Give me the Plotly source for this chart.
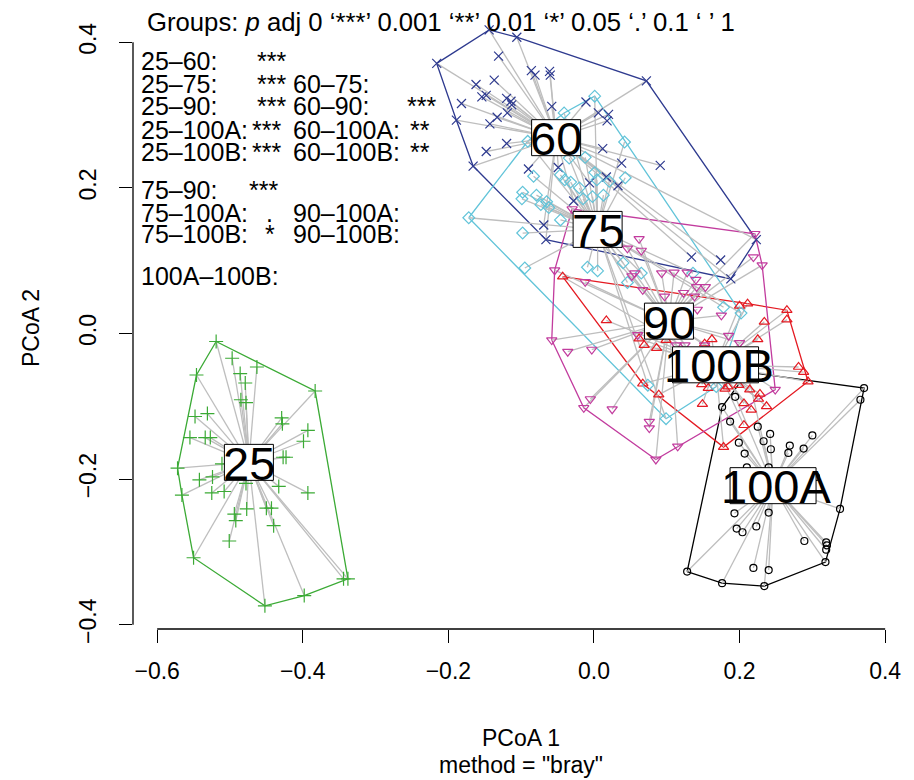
import plotly.graph_objects as go

# ---------------- data (PCoA scores) ----------------
groups = ["100A", "100B", "25", "60", "75", "90"]

x_100A = [0.211, 0.194, 0.176, 0.371, 0.366, 0.187, 0.225, 0.242, 0.300, 0.199, 0.233, 0.269, 0.267, 0.288,
          0.243, 0.207, 0.210, 0.240, 0.305, 0.338, 0.193, 0.240, 0.196, 0.204, 0.223, 0.289, 0.319, 0.320,
          0.319, 0.318, 0.219, 0.240, 0.128, 0.176, 0.234]
y_100A = [-0.053, -0.087, -0.101, -0.075, -0.091, -0.121, -0.128, -0.138, -0.140, -0.150, -0.148, -0.154,
          -0.164, -0.158, -0.159, -0.165, -0.184, -0.184, -0.197, -0.241, -0.247, -0.246, -0.268, -0.273,
          -0.265, -0.285, -0.287, -0.291, -0.297, -0.314, -0.322, -0.325, -0.327, -0.343, -0.347]

x_100B = [-0.043, 0.200, 0.211, 0.234, 0.017, 0.162, 0.225, 0.265, 0.265, 0.062, 0.069, 0.086, 0.152, 0.281,
          0.288, 0.294, 0.067, 0.089, 0.148, 0.157, 0.180, 0.184, 0.199, 0.214, 0.228, 0.226, 0.237, 0.149,
          0.206, 0.216, 0.206, 0.178, 0.099]
y_100B = [0.078, 0.038, 0.041, 0.016, 0.018, -0.008, -0.008, 0.032, 0.019, -0.007, -0.016, -0.020, -0.014,
          -0.046, -0.053, -0.066, -0.069, -0.084, -0.070, -0.075, -0.076, -0.073, -0.071, -0.077, -0.083,
          -0.090, -0.100, -0.097, -0.096, -0.105, -0.126, -0.156, -0.009]

x_25 = [-0.519, -0.497, -0.463, -0.486, -0.479, -0.546, -0.383, -0.485, -0.478, -0.548, -0.531, -0.429,
        -0.428, -0.393, -0.399, -0.555, -0.534, -0.527, -0.511, -0.572, -0.427, -0.423, -0.542, -0.524,
        -0.566, -0.525, -0.508, -0.433, -0.393, -0.494, -0.492, -0.477, -0.450, -0.443, -0.440, -0.501,
        -0.550, -0.452, -0.398, -0.344, -0.338, -0.478]
y_25 = [-0.011, -0.034, -0.046, -0.055, -0.068, -0.057, -0.079, -0.091, -0.095, -0.114, -0.110, -0.116,
        -0.124, -0.133, -0.148, -0.143, -0.143, -0.143, -0.179, -0.185, -0.170, -0.170, -0.201, -0.197,
        -0.222, -0.219, -0.217, -0.210, -0.219, -0.248, -0.257, -0.241, -0.240, -0.240, -0.264, -0.285,
        -0.308, -0.374, -0.360, -0.337, -0.337, -0.206]

x_60 = [-0.144, -0.106, -0.216, 0.072, -0.131, -0.086, -0.081, -0.061, -0.060, -0.162, -0.137, -0.182,
        -0.154, -0.148, -0.120, -0.114, -0.113, -0.058, -0.011, -0.189, -0.143, -0.133, -0.119, 0.006,
        0.020, 0.018, -0.120, -0.148, 0.012, -0.166, -0.090, -0.049, 0.038, 0.091, -0.006, 0.017, 0.033,
        -0.028, -0.069, -0.066, 0.134, 0.174, 0.188, 0.223]
y_60 = [0.417, 0.407, 0.371, 0.347, 0.381, 0.361, 0.355, 0.360, 0.355, 0.342, 0.348, 0.316, 0.325, 0.327,
        0.323, 0.319, 0.314, 0.312, 0.318, 0.293, 0.288, 0.297, 0.303, 0.303, 0.301, 0.292, 0.261, 0.250,
        0.254, 0.230, 0.226, 0.228, 0.234, 0.231, 0.207, 0.215, 0.203, 0.182, 0.149, 0.129, 0.105, 0.101,
        0.075, 0.129]

x_75 = [0.001, -0.041, 0.042, -0.091, -0.034, -0.012, -0.083, -0.046, -0.040, -0.032, 0.001, 0.004, 0.021,
        0.043, -0.020, -0.098, -0.099, -0.079, -0.065, -0.073, -0.062, -0.002, 0.013, -0.015, -0.172,
        -0.046, -0.098, -0.009, 0.005, 0.040, -0.095, 0.065, 0.046, 0.136, 0.178, 0.202, 0.168, 0.074, 0.099]
y_75 = [0.326, 0.303, 0.263, 0.264, 0.241, 0.242, 0.216, 0.218, 0.211, 0.208, 0.221, 0.211, 0.209, 0.214,
        0.200, 0.194, 0.185, 0.190, 0.181, 0.177, 0.173, 0.188, 0.190, 0.185, 0.159, 0.156, 0.138, 0.091,
        0.086, 0.097, 0.090, 0.083, 0.070, 0.083, 0.036, 0.028, -0.073, -0.071, -0.117]

x_90 = [-0.030, 0.221, 0.231, 0.219, 0.062, 0.046, 0.065, -0.054, -0.012, 0.052, 0.056, 0.067, 0.093, 0.110,
        0.128, 0.140, 0.153, 0.141, 0.097, 0.123, 0.138, 0.142, 0.175, -0.058, 0.185, -0.036, -0.003, 0.060,
        0.113, 0.125, 0.152, 0.200, 0.249, -0.005, -0.014, 0.025, 0.076, 0.076, 0.115, 0.085]
y_90 = [0.171, 0.137, 0.094, 0.105, 0.130, 0.117, 0.114, 0.087, 0.071, 0.079, 0.083, 0.060, 0.083, 0.084,
        0.084, 0.074, 0.064, 0.064, 0.051, 0.056, 0.051, 0.033, 0.025, -0.009, -0.003, -0.025, -0.022,
        -0.002, -0.016, -0.016, -0.016, -0.013, -0.077, -0.090, -0.102, -0.104, -0.121, -0.130, -0.155,
        -0.173]

# group centroids (spider centres / label positions), order = groups
centroid_x = [0.246, 0.167, -0.474, -0.052, 0.005, 0.103]
centroid_y = [-0.209, -0.043, -0.177, 0.269, 0.143, 0.017]

# pairwise comparison text
pair_labels = ["25–60:", "25–75:", "25–90:", "25–100A:", "25–100B:",
               "60–75:", "60–90:", "60–100A:", "60–100B:",
               "75–90:", "75–100A:", "75–100B:",
               "90–100A:", "90–100B:", "100A–100B:"]
pair_signif = ["***", "***", "***", "***", "***",
               "", "***", "**", "**",
               "***", ".", "*",
               "", "", ""]

tick_vals_x = [-0.6, -0.4, -0.2, 0.0, 0.2, 0.4]
tick_text_x = ["−0.6", "−0.4", "−0.2", "0.0", "0.2", "0.4"]
tick_vals_y = [-0.4, -0.2, 0.0, 0.2, 0.4]
tick_text_y = ["−0.4", "−0.2", "0.0", "0.2", "0.4"]

# ---------------- styles ----------------
group_x = {"100A": x_100A, "100B": x_100B, "25": x_25, "60": x_60, "75": x_75, "90": x_90}
group_y = {"100A": y_100A, "100B": y_100B, "25": y_25, "60": y_60, "75": y_75, "90": y_90}
colors = {"100A": "#000000", "100B": "#E41A22", "25": "#3BAA35", "60": "#2E3A8F",
          "75": "#62C4D9", "90": "#C23C9E"}
symbols = {"100A": "circle-open", "100B": "triangle-up-open", "25": "cross-thin-open",
           "60": "x-thin-open", "75": "diamond-open", "90": "triangle-down-open"}
msize = {"100A": 7, "100B": 9, "25": 10, "60": 9, "75": 9, "90": 9}

FONT = "Liberation Sans, Arial, Helvetica, sans-serif"
W, H = 914, 780
ML, MR, MT, MB = 133, 6, 7, 151
PW, PH = W - ML - MR, H - MT - MB
XR = [-0.6332, -0.6332 + PW / 728.0]
YR = [-0.4059, -0.4059 + PH / 728.0]


def px(xpix):
    return (xpix - ML) / PW


def py(ypix):
    return (H - MB - ypix) / PH


def convex_hull(xs, ys):
    pts = sorted(set(zip(xs, ys)))

    def cross(o, a, b):
        return (a[0] - o[0]) * (b[1] - o[1]) - (a[1] - o[1]) * (b[0] - o[0])

    lower, upper = [], []
    for p in pts:
        while len(lower) >= 2 and cross(lower[-2], lower[-1], p) <= 0:
            lower.pop()
        lower.append(p)
    for p in reversed(pts):
        while len(upper) >= 2 and cross(upper[-2], upper[-1], p) <= 0:
            upper.pop()
        upper.append(p)
    h = lower[:-1] + upper[:-1]
    h.append(h[0])
    return [p[0] for p in h], [p[1] for p in h]


fig = go.Figure()

# hulls
for g in groups:
    hx, hy = convex_hull(group_x[g], group_y[g])
    fig.add_trace(go.Scatter(x=hx, y=hy, mode="lines", line=dict(color=colors[g], width=1.3),
                             hoverinfo="skip", showlegend=False))

# spider segments
for i, g in enumerate(groups):
    sx, sy = [], []
    for xv, yv in zip(group_x[g], group_y[g]):
        sx += [centroid_x[i], xv, None]
        sy += [centroid_y[i], yv, None]
    fig.add_trace(go.Scatter(x=sx, y=sy, mode="lines", line=dict(color="#BEBEBE", width=1.3),
                             hoverinfo="skip", showlegend=False))

# points
for g in groups:
    fig.add_trace(go.Scatter(x=group_x[g], y=group_y[g], mode="markers", name=g,
                             marker=dict(symbol=symbols[g], size=msize[g], color=colors[g],
                                         line=dict(color=colors[g], width=1.2)),
                             showlegend=False))

shapes = []
annotations = []

# centroid labels with boxes
for i, g in enumerate(groups):
    bw = 49 if len(g) == 2 else 86
    shapes.append(dict(type="rect", xref="x", yref="y", xsizemode="pixel", ysizemode="pixel",
                       xanchor=centroid_x[i], yanchor=centroid_y[i],
                       x0=-bw / 2, x1=bw / 2, y0=-18, y1=18,
                       fillcolor="white", line=dict(color="black", width=1), layer="above"))
    annotations.append(dict(x=centroid_x[i], y=centroid_y[i], xref="x", yref="y", text=g,
                            showarrow=False, xanchor="center", yanchor="middle",
                            xshift=0 if len(g) == 2 else 3, yshift=-1,
                            font=dict(family=FONT, size=47, color="black")))

# axis lines (R style: from first to last tick)
shapes.append(dict(type="line", xref="paper", yref="y", x0=0, x1=0, y0=-0.4, y1=0.4,
                   line=dict(color="black", width=1.3)))
shapes.append(dict(type="line", xref="x", yref="paper", x0=-0.6, x1=0.4, y0=0, y1=0,
                   line=dict(color="black", width=1.3)))

# title line
annotations.append(dict(x=px(145), y=py(22), xref="paper", yref="paper", xanchor="left", yanchor="middle",
                        text="Groups: <i>p</i> adj 0 ‘***’ 0.001 ‘**’ 0.01 ‘*’ 0.05 ‘.’ 0.1 ‘ ’ 1",
                        showarrow=False, font=dict(family=FONT, size=25.7, color="black")))

# pairwise block layout (pixel positions)
row_y = [61.3, 83.7, 106.3, 129.7, 152, 83.7, 106.3, 129.7, 152, 190, 213, 233.7, 213, 233.7, 275.7]
lab_x = [139] * 5 + [290.7] * 4 + [139] * 3 + [290.7] * 2 + [139]
sig_x = [254.7, 254.7, 254.7, 249.7, 249.7, 0, 404.7, 408, 408, 247.3, 264, 262.5, 0, 0, 0]
for lab, sig, yy, lx, sx in zip(pair_labels, pair_signif, row_y, lab_x, sig_x):
    annotations.append(dict(x=px(lx), y=py(yy), xref="paper", yref="paper", xanchor="left", yanchor="middle",
                            text=lab, showarrow=False, font=dict(family=FONT, size=25, color="black")))
    if sig:
        annotations.append(dict(x=px(sx), y=py(yy), xref="paper", yref="paper", xanchor="left",
                                yanchor="middle", text=sig, showarrow=False,
                                font=dict(family=FONT, size=25, color="black")))

# axis titles
annotations.append(dict(x=px(520.5), y=py(738), xref="paper", yref="paper", text="PCoA 1", showarrow=False,
                        xanchor="center", yanchor="middle", font=dict(family=FONT, size=23, color="black")))
annotations.append(dict(x=px(520.5), y=py(765), xref="paper", yref="paper", text='method = "bray"',
                        showarrow=False, xanchor="center", yanchor="middle",
                        font=dict(family=FONT, size=23, color="black")))
annotations.append(dict(x=px(31), y=py(328), xref="paper", yref="paper", text="PCoA 2", showarrow=False,
                        textangle=-90, xanchor="center", yanchor="middle",
                        font=dict(family=FONT, size=23, color="black")))

fig.update_layout(
    template="none",
    width=W, height=H, autosize=False,
    margin=dict(l=ML, r=MR, t=MT, b=MB, autoexpand=False),
    paper_bgcolor="white", plot_bgcolor="white",
    showlegend=False,
    shapes=shapes, annotations=annotations,
    xaxis=dict(range=XR, showgrid=False, zeroline=False, showline=False, automargin=False,
               tickmode="array", tickvals=tick_vals_x, ticktext=tick_text_x,
               ticks="outside", ticklen=13, tickwidth=1.3, tickcolor="black",
               tickfont=dict(family=FONT, size=23, color="black"), ticklabelstandoff=8),
    yaxis=dict(range=YR, showgrid=False, zeroline=False, showline=False, automargin=False,
               tickmode="array", tickvals=tick_vals_y, ticktext=tick_text_y,
               ticks="outside", ticklen=13, tickwidth=1.3, tickcolor="black", tickangle=-90,
               tickfont=dict(family=FONT, size=23, color="black"), ticklabelstandoff=14),
)

fig.write_html("out.html", config={"displayModeBar": False},
               post_script="document.body.style.margin='0';document.body.style.overflow='hidden';")
